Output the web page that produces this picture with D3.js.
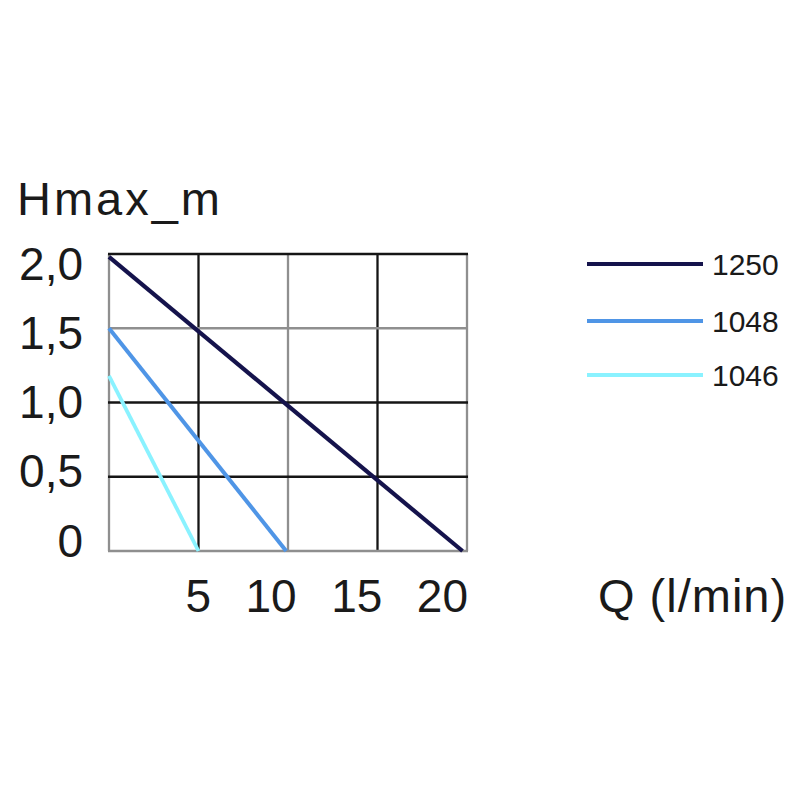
<!DOCTYPE html>
<html>
<head>
<meta charset="utf-8">
<script src="https://cdn.jsdelivr.net/npm/d3@7"></script>
<style>
  html, body { margin: 0; padding: 0; background: #fff; }
  svg { display: block; }
  text { font-family: "Liberation Sans", Arial, Helvetica, sans-serif; fill: #1a1a1a; }
</style>
</head>
<body>
<svg id="chart" width="800" height="800"></svg>
<script>
// ---- data ----
const seriesNames = ["1250", "1048", "1046"];
const seriesColors = ["#15134c", "#4f95e6", "#8af2ff"];
// each series: [Q, H] endpoints
const series1250 = [[0, 1.98], [19.75, 0]];
const series1048 = [[0, 1.5], [9.9, 0]];
const series1046 = [[0, 1.18], [5.0, 0]];
const xTicks = [5, 10, 15, 20];
const yTicks = [0, 0.5, 1.0, 1.5, 2.0];
const yTickLabels = ["0", "0,5", "1,0", "1,5", "2,0"];
const xTitle = "Q (l/min)";
const yTitle = "Hmax_m";

const allSeries = [series1250, series1048, series1046];

const svg = d3.select("#chart");
const x = d3.scaleLinear().domain([0, 20]).range([109, 467]);
const y = d3.scaleLinear().domain([0, 2]).range([551, 254]);
// label positions (labels in the source are spaced slightly differently from the grid)
const yLab = d3.scaleLinear().domain([0, 2]).range([540, 263]);
const xLab = d3.scaleLinear().domain([5, 20]).range([211, 468]);

// grid style (black / gray alternation as in source)
const vGridDark = {0: false, 5: true, 10: false, 15: true, 20: false};
const hGridDark = {0: false, 0.5: true, 1: true, 1.5: false, 2: true};

const g = svg.append("g");
// vertical gridlines (incl. borders)
g.selectAll("line.v").data([0].concat(xTicks)).enter().append("line")
  .attr("class", "v")
  .attr("x1", d => x(d)).attr("x2", d => x(d))
  .attr("y1", y(2)).attr("y2", y(0))
  .attr("stroke", d => vGridDark[d] ? "#151515" : "#8f8f8f")
  .attr("stroke-width", 2.3);
// horizontal gridlines (incl. borders)
g.selectAll("line.h").data(yTicks).enter().append("line")
  .attr("class", "h")
  .attr("x1", x(0) - 1).attr("x2", x(20) + 1)
  .attr("y1", d => y(d)).attr("y2", d => y(d))
  .attr("stroke", d => hGridDark[d] ? "#151515" : "#8f8f8f")
  .attr("stroke-width", 2.3);

// series lines
const line = d3.line().x(d => x(d[0])).y(d => y(d[1]));
const widths = [4.2, 4, 3.8];
svg.selectAll("path.s").data(allSeries).enter().append("path")
  .attr("class", "s")
  .attr("d", d => line(d))
  .attr("fill", "none")
  .attr("stroke", (d, i) => seriesColors[i])
  .attr("stroke-width", (d, i) => widths[i]);

// y tick labels
svg.selectAll("text.yl").data(yTicks).enter().append("text")
  .attr("class", "yl")
  .attr("x", 83)
  .attr("y", d => yLab(d))
  .attr("dy", "0.36em")
  .attr("text-anchor", "end")
  .attr("font-size", 46)
  .text((d, i) => yTickLabels[i]);

// x tick labels
svg.selectAll("text.xl").data(xTicks).enter().append("text")
  .attr("class", "xl")
  .attr("x", d => xLab(d))
  .attr("y", 612)
  .attr("text-anchor", "end")
  .attr("font-size", 46)
  .text(d => d);

// titles
svg.append("text").attr("x", 17).attr("y", 215)
  .attr("font-size", 47).attr("letter-spacing", 3).text(yTitle);
svg.append("text").attr("x", 598).attr("y", 612)
  .attr("font-size", 47).attr("letter-spacing", 1).text(xTitle);

// legend
const legY = [264, 321, 375];
const legW = [4.2, 4, 3.8];
const leg = svg.selectAll("g.leg").data(seriesNames).enter().append("g").attr("class", "leg");
leg.append("line")
  .attr("x1", 587).attr("x2", 703)
  .attr("y1", (d, i) => legY[i]).attr("y2", (d, i) => legY[i])
  .attr("stroke", (d, i) => seriesColors[i])
  .attr("stroke-width", (d, i) => legW[i]);
leg.append("text")
  .attr("x", 712)
  .attr("y", (d, i) => legY[i])
  .attr("dy", "0.36em")
  .attr("font-size", 30)
  .attr("fill", "#222")
  .text(d => d);
</script>
</body>
</html>
